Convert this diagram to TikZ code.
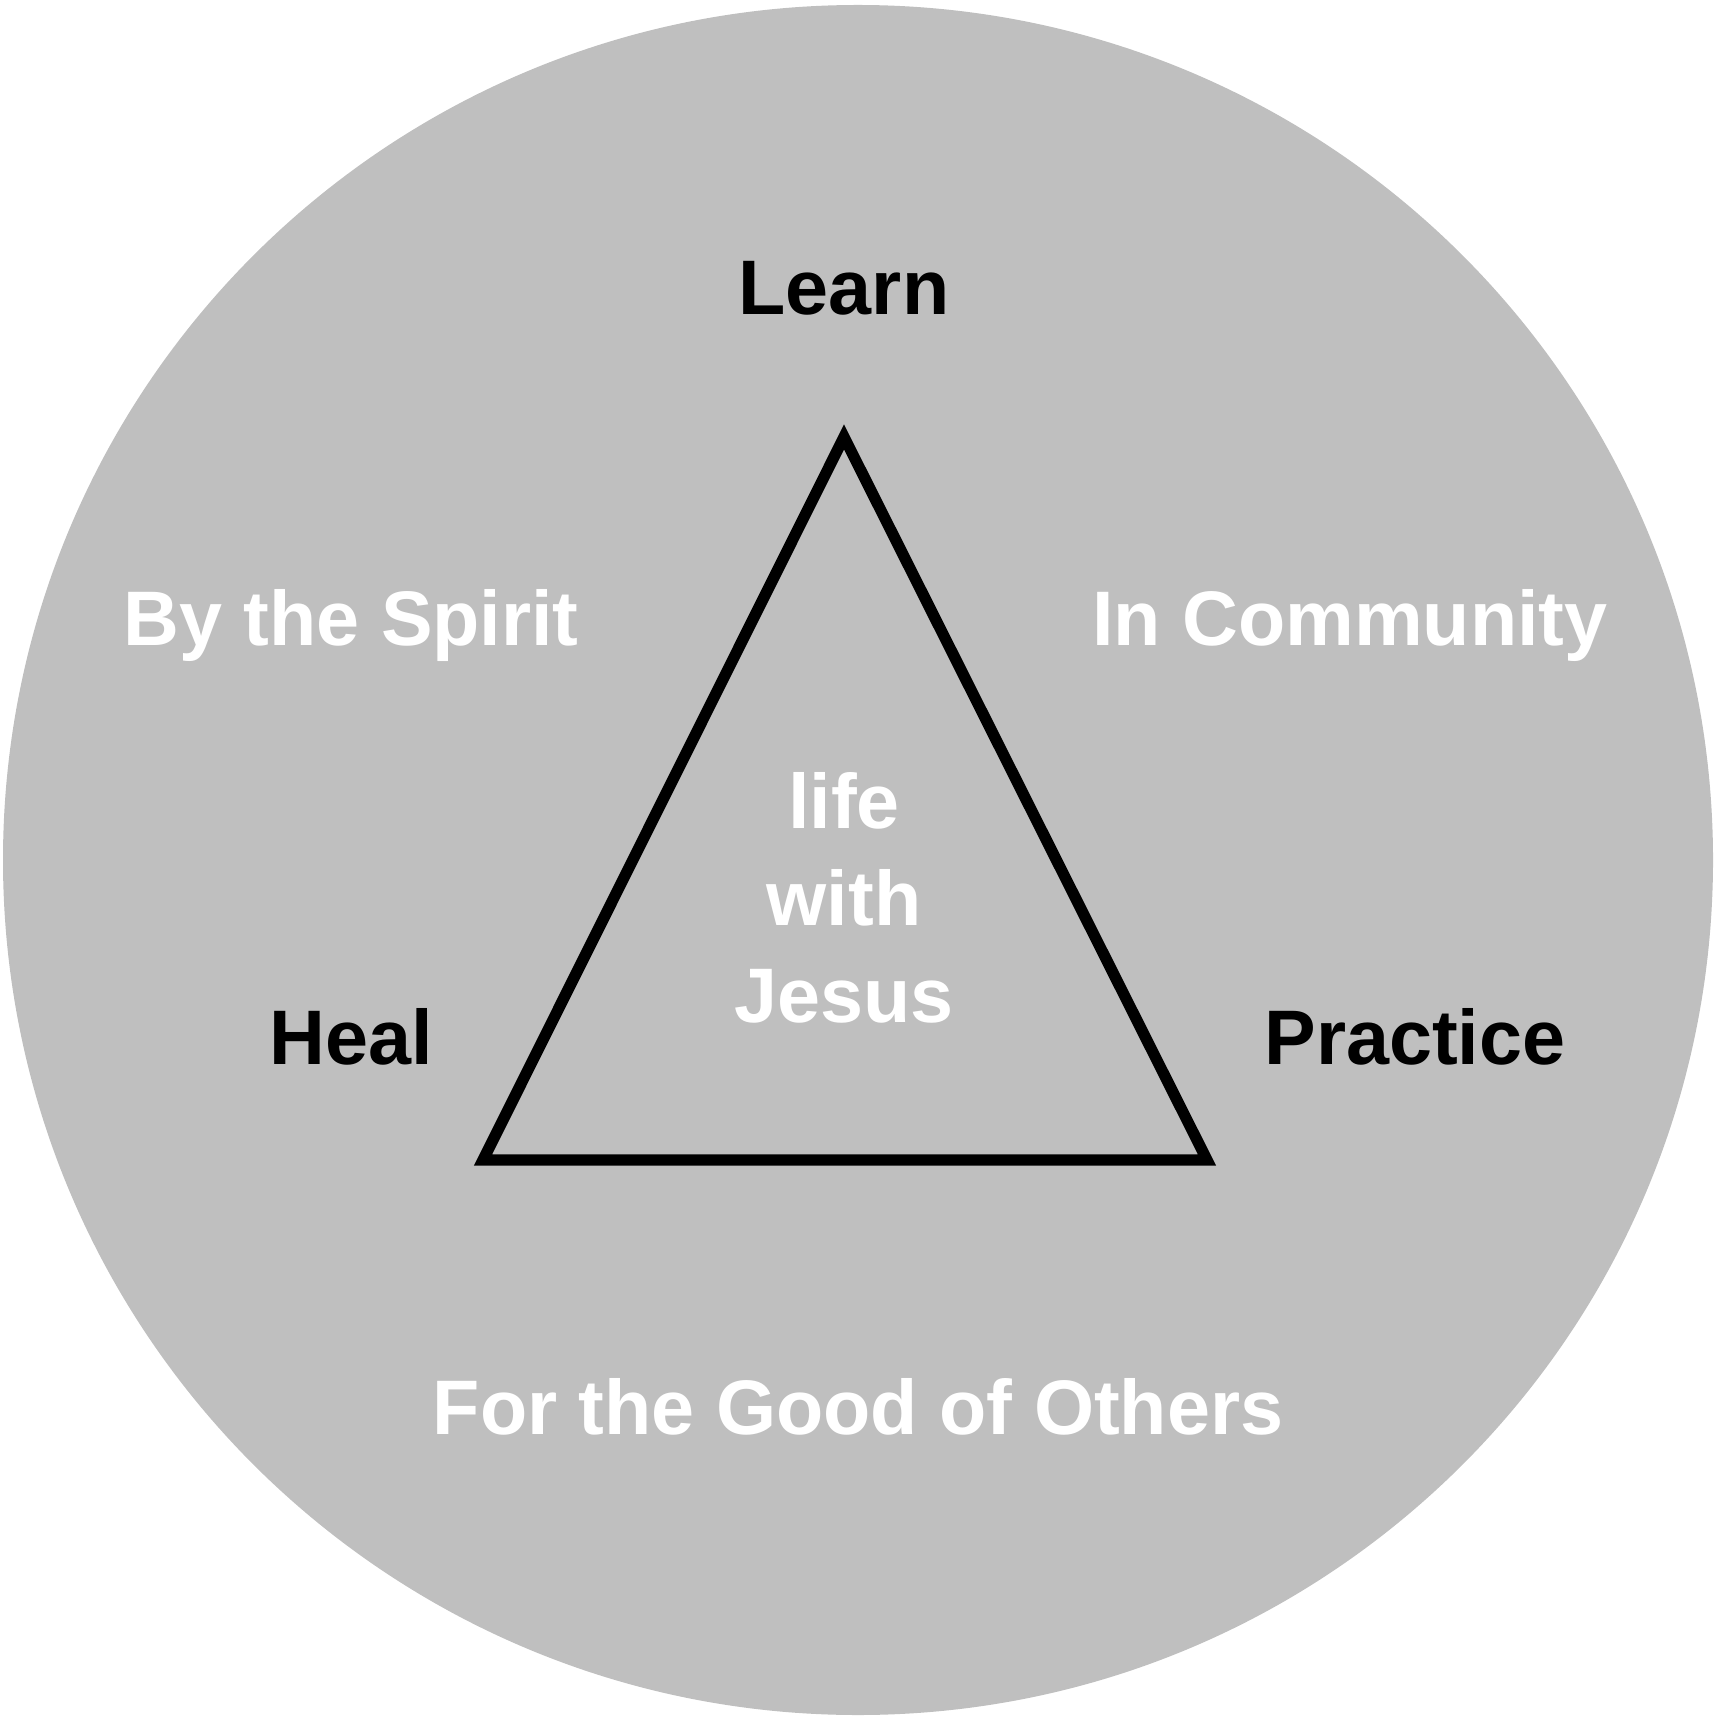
\documentclass[tikz,border=0pt]{standalone}
\usepackage{fontspec}
\setmainfont{Liberation Sans}
\definecolor{discgray}{HTML}{BFBFBF}
\begin{document}
\begin{tikzpicture}[x=0.1mm, y=-0.1mm, font=\bfseries\fontsize{22}{27.5}\selectfont]
  \useasboundingbox (0,0) rectangle (1716,1720);
  \fill[discgray] (858,860) circle (855);

  % triangle corners
  \coordinate (TA) at (844,437);
  \coordinate (TL) at (483,1160);
  \coordinate (TR) at (1207,1160);
  \draw[line width=3.2pt, line join=miter] (TA) -- (TL) -- (TR) -- cycle;

  \node[anchor=base] (LE) at (844,315) {Learn};
  \node[anchor=base] (HE) at (351,1064) {Heal};
  \node[anchor=base] (PR) at (1415,1064) {Practice};

  \node[anchor=base, white] (SP) at (351,646) {By the Spirit};
  \node[anchor=base, white] (CO) at (1350,646) {In Community};
  \node[anchor=base, white] (GO) at (858,1434) {For the Good of Others};
  \node[anchor=base, white, align=center] (LJ) at (844,1022) {life\\with\\Jesus};
\end{tikzpicture}
\end{document}
